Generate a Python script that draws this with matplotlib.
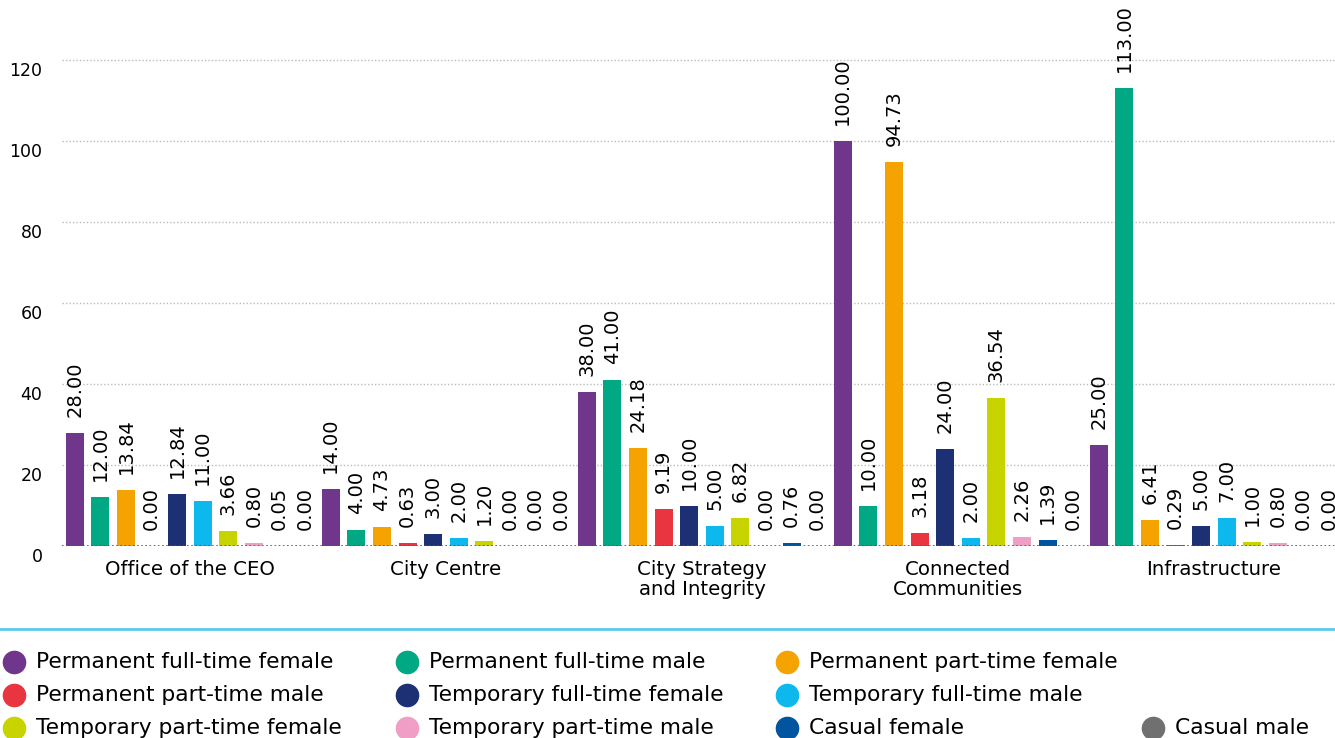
import matplotlib
matplotlib.use("Agg")
import matplotlib.pyplot as plt
import matplotlib.transforms as mtrans
from matplotlib.lines import Line2D
import numpy as np

plt.rcParams['font.family'] = ['DejaVu Sans']

categories = ["Office of the CEO", "City Centre", "City Strategy\nand Integrity",
              "Connected\nCommunities", "Infrastructure"]
series_names = ["Permanent full-time female", "Permanent full-time male",
                "Permanent part-time female", "Permanent part-time male",
                "Temporary full-time female", "Temporary full-time male",
                "Temporary part-time female", "Temporary part-time male",
                "Casual female", "Casual male"]
colors = ["#6F368B", "#00A884", "#F5A300", "#E8353F", "#1D3074",
          "#0DB8EC", "#C8D400", "#F09EC5", "#0054A0", "#707070"]

office_ceo = [28.00, 12.00, 13.84, 0.00, 12.84, 11.00, 3.66, 0.80, 0.05, 0.00]
city_centre = [14.00, 4.00, 4.73, 0.63, 3.00, 2.00, 1.20, 0.00, 0.00, 0.00]
city_strategy = [38.00, 41.00, 24.18, 9.19, 10.00, 5.00, 6.82, 0.00, 0.76, 0.00]
connected = [100.00, 10.00, 94.73, 3.18, 24.00, 2.00, 36.54, 2.26, 1.39, 0.00]
infrastructure = [25.00, 113.00, 6.41, 0.29, 5.00, 7.00, 1.00, 0.80, 0.00, 0.00]

yticks = [0, 20, 40, 60, 80, 100, 120]

values = np.array([office_ceo, city_centre, city_strategy, connected, infrastructure])

W, H = 1335, 738
fig = plt.figure(figsize=(W / 100, H / 100), dpi=100)
ax = fig.add_axes([62 / W, 1 - 546 / H, 1280 / W, 546 / H])

n_cat, n_ser = values.shape
x = np.arange(n_cat)
step = 0.1
for j in range(n_ser):
    xs = x + (j - (n_ser - 1) / 2) * step
    ax.bar(xs, values[:, j], width=0.07, color=colors[j], zorder=3)
    for xi, v in zip(xs, values[:, j]):
        ax.annotate(f"{v:.2f}", (xi, v), xytext=(0, 11.5), textcoords="offset points",
                    rotation=90, ha="center", va="bottom", fontsize=14,
                    color="black", annotation_clip=False)

ax.set_xlim(-0.5, n_cat - 0.5)
ax.set_ylim(0, 546 / 4.05)
ax.set_yticks(yticks)
ax.set_yticklabels([str(t) for t in yticks])
ax.set_xticks(x)
ax.set_xticklabels(categories, fontsize=14.2, linespacing=1.1)
ax.tick_params(axis="both", length=0)
ax.tick_params(axis="y", pad=14, labelsize=12.5)
ax.tick_params(axis="x", pad=10)
for lab in ax.get_yticklabels():
    lab.set_transform(lab.get_transform() + mtrans.ScaledTranslation(0, -9 / 100, fig.dpi_scale_trans))
for s in ax.spines.values():
    s.set_visible(False)
for t in yticks[1:]:
    ax.axhline(t, color="#BBBBBB", linestyle=(0, (1, 1.5)), linewidth=1, zorder=1)
ax.axhline(0, color="#555555", linestyle=(0, (1, 1.5)), linewidth=1.2, zorder=4)

# separator line
fig.add_artist(Line2D([0, 1], [1 - 629 / H, 1 - 629 / H], transform=fig.transFigure,
                      color="#5BCBEA", linewidth=2))

# legend (manual layout)
leg_x = [14, 407, 787, 14, 407, 787, 14, 407, 787, 1153]
leg_y = [662, 662, 662, 695, 695, 695, 728, 728, 728, 728]
for name, c, lx, ly in zip(series_names, colors, leg_x, leg_y):
    fig.add_artist(Line2D([lx / W], [1 - ly / H], transform=fig.transFigure,
                          marker="o", markersize=16, color=c, linestyle="none"))
    fig.text((lx + 22) / W, 1 - ly / H, name, fontsize=15.7, va="center", ha="left",
             color="black")

fig.savefig("out.png", dpi=100)
